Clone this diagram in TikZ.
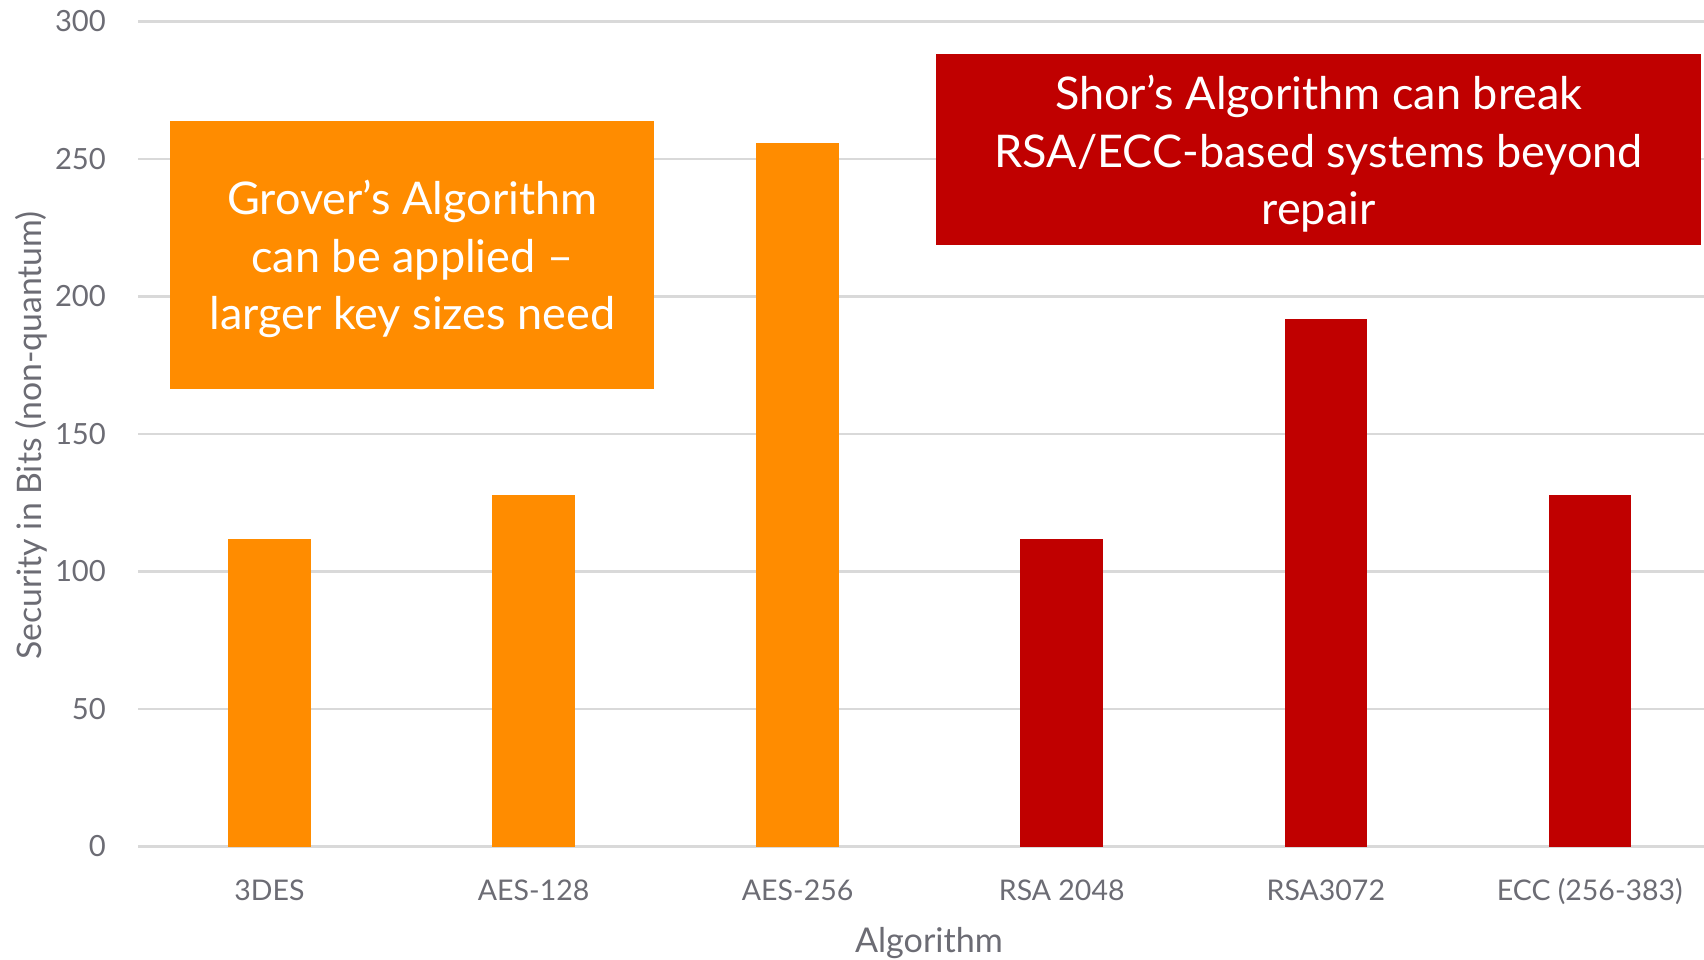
\documentclass[tikz,border=0pt]{standalone}
\usepackage{fontspec}
\setmainfont{Lato}
\usetikzlibrary{positioning}

\definecolor{grovercol}{RGB}{255,140,0}
\definecolor{shorcol}{RGB}{192,0,0}
\definecolor{axistext}{RGB}{108,108,116}
\definecolor{gridgray}{RGB}{217,217,217}

\tikzset{
  ticklabel/.style={anchor=east, inner sep=0pt, text=axistext,
    font=\fontsize{8.3}{10}\selectfont},
  catlabel/.style={anchor=base, inner sep=0pt, text=axistext,
    font=\fontsize{8.1}{10}\selectfont},
  axistitle/.style={inner sep=0pt, text=axistext,
    font=\fontsize{9.7}{11}\selectfont},
  calloutbox/.style={inner sep=0pt},
  callouttext/.style={inner sep=0pt, align=center, text=white,
    font=\fontsize{12.8}{16.4}\selectfont},
  gridline/.style={draw=gridgray, line width=0.6pt},
}

\begin{document}
\begin{tikzpicture}[x=0.01cm,y=0.01cm]
  \useasboundingbox (0,0) rectangle (1704,959);

  % grid and value axis
  \foreach \v in {0,50,...,300}{
    \draw[gridline] (138,112.5+2.75*\v) -- (1704,112.5+2.75*\v);
    \node[ticklabel] (tick\v) at (106.5,112.5+2.75*\v) {\v};
  }

  % bars and categories
  \foreach \x/\h/\c/\lab [count=\i] in {
      269.5/112/grovercol/3DES,
      533.6/128/grovercol/AES-128,
      797.6/256/grovercol/AES-256,
      1061.7/112/shorcol/RSA 2048,
      1325.8/192/shorcol/RSA3072,
      1589.8/128/shorcol/ECC (256-383)}{
    \fill[\c] (\x-41.3,112.5) rectangle (\x+41.3,112.5+2.75*\h);
    \node[catlabel] (cat\i) at (\x,59) {\lab};
  }

  \node[axistitle, anchor=base] (xtitle) at (929,7) {Algorithm};
  \node[axistitle, font=\fontsize{9.6}{11}\selectfont, rotate=90] (ytitle)
    at (31,523.5) {Security in Bits (non-quantum)};

  % callouts
  \node[calloutbox, fill=grovercol, minimum width=4.836cm, minimum height=2.684cm]
    (grover) at (412.4,704.2) {};
  \node[callouttext] (grovertext) at ([yshift=-0.043cm]grover.center)
    {Grover’s Algorithm\\can be applied –\\larger key sizes need};
  \node[calloutbox, fill=shorcol, minimum width=7.64cm, minimum height=1.902cm]
    (shor) at (1318.7,809.6) {};
  \node[callouttext] (shortext) at ([yshift=-0.043cm]shor.center)
    {Shor’s Algorithm can break\\RSA/ECC-based systems beyond\\repair};
\end{tikzpicture}
\end{document}
